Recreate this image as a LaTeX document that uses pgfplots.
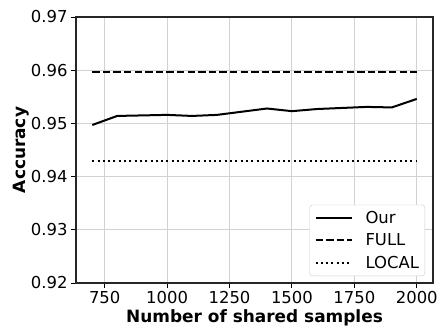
\documentclass[border=0pt]{standalone}
\usepackage{pgfplots}
\pgfplotsset{compat=1.18}
\usepackage{fontspec}
\setmainfont{DejaVu Sans}
\begin{document}
\begin{tikzpicture}
\begin{axis}[
  scale only axis,
  width=357bp, height=266bp,
  xmin=635, xmax=2065,
  ymin=0.92, ymax=0.97,
  xtick={750,1000,1250,1500,1750,2000},
  ytick={0.92,0.93,0.94,0.95,0.96,0.97},
  yticklabel style={/pgf/number format/.cd, fixed, fixed zerofill, precision=2},
  xticklabel style={/pgf/number format/.cd, fixed, 1000 sep={}},
  /pgf/number format/assume math mode=true,
  ticklabel style={font=\fontsize{16.5}{19}\selectfont},
  tick align=outside,
  tick style={black, line width=0.9bp},
  major tick length=5bp,
  xtick pos=bottom, ytick pos=left,
  grid=major,
  grid style={gray!35, line width=0.9bp},
  axis line style={black!85, line width=1.1bp},
  xlabel={\bfseries Number of shared samples},
  ylabel={\bfseries Accuracy},
  label style={font=\fontsize{17}{20}\selectfont},
  xlabel style={yshift=1bp},
  ylabel style={yshift=-5bp},
  legend style={at={(0.978,0.026)}, anchor=south east, draw=black!20, rounded corners=3bp,
     font=\fontsize{16.5}{19}\selectfont, row sep=7bp, inner xsep=5bp, inner ysep=5bp,
     nodes={inner sep=1bp},
     /tikz/every odd column/.style={column sep=12bp}},
  legend cell align=left,
  legend image code/.code={\draw[#1] (0bp,0bp) -- (36bp,0bp);},
]
\addplot[black, line width=2bp] coordinates {
(700,0.9497) (800,0.9514) (900,0.9515) (1000,0.9516) (1100,0.9514) (1200,0.9516)
(1300,0.9522) (1400,0.9528) (1500,0.9523) (1600,0.9527) (1700,0.9529) (1800,0.9531)
(1900,0.9530) (2000,0.9546)};
\addlegendentry{Our}
\addplot[black, line width=2bp, dash pattern=on 7.4bp off 3.2bp] coordinates {(700,0.9596) (2000,0.9596)};
\addlegendentry{FULL}
\addplot[black, line width=2bp, dash pattern=on 2bp off 3.3bp] coordinates {(700,0.9430) (2000,0.9430)};
\addlegendentry{LOCAL}
\end{axis}
\path ([shift={(-76bp,-46bp)}]current axis.south west) rectangle ([shift={(8bp,17bp)}]current axis.north east);
\end{tikzpicture}
\end{document}
